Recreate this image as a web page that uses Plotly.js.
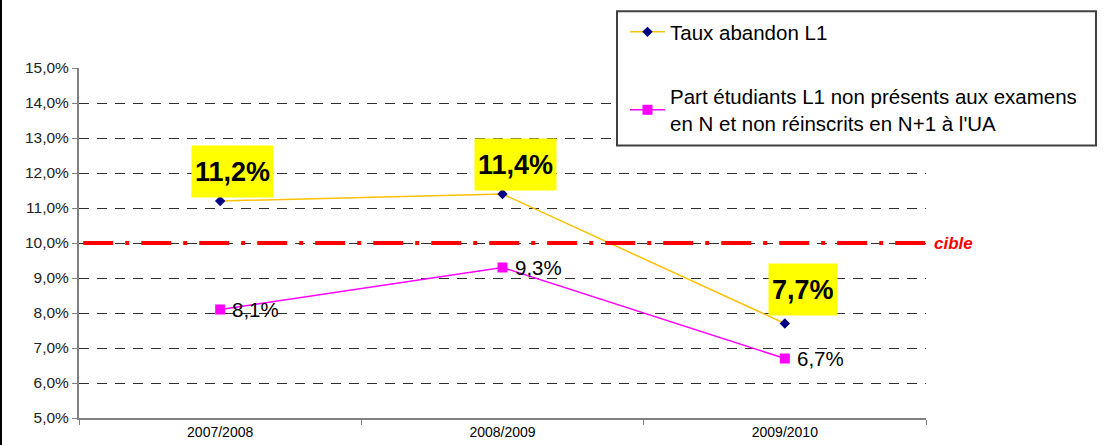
<!DOCTYPE html>
<html>
<head>
<meta charset="utf-8">
<script src="https://cdn.plot.ly/plotly-3.0.1.min.js"></script>
<style>
  html, body { margin: 0; padding: 0; background: #fff; }
  #chart { width: 1102px; height: 445px; border-left: 2px solid #000; }
</style>
</head>
<body>
<div id="chart"></div>
<script>
// ---- data ----
const categories = ['2007/2008', '2008/2009', '2009/2010'];
const tauxAbandon = [11.2, 11.4, 7.7];
const partNonPresents = [8.1, 9.3, 6.7];
const cible = 10;
const yTickVals = [5, 6, 7, 8, 9, 10, 11, 12, 13, 14, 15];
const seriesNames = ['Taux abandon L1', 'Part étudiants L1 non présents aux examens<br>en N et non réinscrits en N+1 à l\'UA'];

// ---- helpers ----
const fmt = v => v.toFixed(1).replace('.', ',') + '%';
const yTickText = yTickVals.map(fmt);
const tauxLabels = tauxAbandon.map(fmt);
const partLabels = partNonPresents.map(fmt);

// label box offsets (px) relative to each marker
const boxShift = [[12, 30], [13, 29.5], [18, 34]];

const FONT = 'Arial, "Liberation Sans", sans-serif';

const traces = [
  {
    x: categories, y: tauxAbandon, name: seriesNames[0], type: 'scatter', mode: 'lines+markers',
    line: { color: '#FFC000', width: 1.5 },
    marker: { symbol: 'diamond', color: '#000080', size: 8 },
    legendgroup: 'a', hoverinfo: 'skip'
  },
  {
    x: categories, y: partNonPresents, name: seriesNames[1], type: 'scatter', mode: 'lines+markers',
    line: { color: '#FF00FF', width: 1.5 },
    marker: { symbol: 'square', color: '#FF00FF', size: 10 },
    legendgroup: 'b', hoverinfo: 'skip'
  }
];

const annotations = tauxAbandon.map((v, i) => ({
  x: categories[i], y: v, xref: 'x', yref: 'y', showarrow: false,
  xshift: boxShift[i][0], yshift: boxShift[i][1],
  text: '<b>' + tauxLabels[i] + '</b>',
  font: { family: FONT, size: 27, color: '#000' },
  bgcolor: '#FFFF00', borderpad: 3, borderwidth: 1, bordercolor: 'rgba(0,0,0,0)',
  height: 45, valign: 'middle'
}));
partNonPresents.forEach((v, i) => annotations.push({
  x: categories[i], y: v, xref: 'x', yref: 'y', showarrow: false,
  xanchor: 'left', yanchor: 'middle', xshift: 10,
  text: partLabels[i],
  font: { family: FONT, size: 20.5, color: '#000' }
}));
annotations.push({
  x: 1.007, xref: 'paper', y: cible, yref: 'y', xanchor: 'left', yanchor: 'middle',
  showarrow: false, text: '<b><i>cible</i></b>',
  font: { family: FONT, size: 17, color: '#FF0000' }
});

const layout = {
  width: 1102, height: 445,
  margin: { l: 77, r: 178, t: 66, b: 27 },
  paper_bgcolor: '#fff', plot_bgcolor: '#fff',
  font: { family: FONT, color: '#000' },
  showlegend: true,
  legend: {
    x: 0.6446, xanchor: 'left', y: 1.16, yanchor: 'top',
    bgcolor: 'rgba(0,0,0,0)', borderwidth: 0,
    font: { family: FONT, size: 20.5, color: '#000' },
    tracegroupgap: 35, itemwidth: 35, traceorder: 'grouped'
  },
  xaxis: {
    type: 'category', range: [-0.5, 2.5],
    showline: true, linecolor: '#808080', linewidth: 2,
    ticks: 'outside', tickson: 'boundaries', ticklen: 5, tickcolor: '#808080', tickwidth: 1,
    showgrid: false, zeroline: false,
    tickfont: { family: FONT, size: 14, color: '#000' }
  },
  yaxis: {
    range: [5, 15], tickvals: yTickVals, ticktext: yTickText,
    showline: true, linecolor: '#808080', linewidth: 2,
    ticks: 'outside', ticklen: 5, tickcolor: '#808080', tickwidth: 1,
    showgrid: true, gridcolor: '#303030', gridwidth: 1, griddash: '10px,8px',
    zeroline: false,
    tickfont: { family: FONT, size: 15.5, color: '#222' }
  },
  shapes: [
    {
      type: 'line', xref: 'paper', yref: 'y', x0: 0.005, x1: 1.007, y0: cible, y1: cible,
      line: { color: '#FF0000', width: 4, dash: '30px,12px,4px,12px' }
    },
    {
      type: 'rect', xref: 'paper', yref: 'paper', x0: 0.6352, x1: 1.2007, y0: 0.7784, y1: 1.1619,
      line: { color: '#404040', width: 2 }, fillcolor: '#fff', layer: 'above'
    }
  ],
  annotations: annotations
};

Plotly.newPlot('chart', traces, layout, { displayModeBar: false, staticPlot: true });
</script>
</body>
</html>
